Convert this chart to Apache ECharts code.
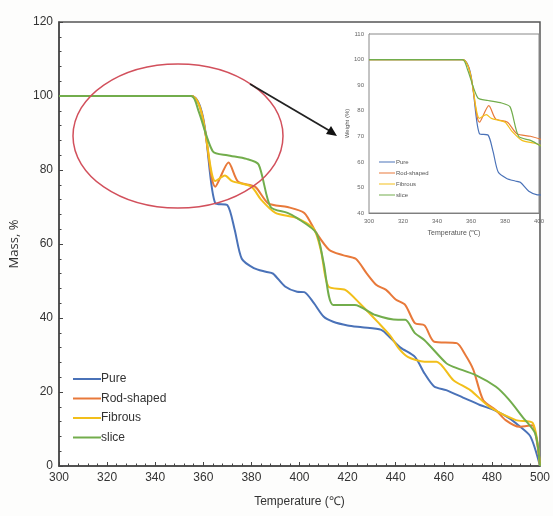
<!DOCTYPE html>
<html>
<head>
<meta charset="utf-8">
<script src="https://cdn.jsdelivr.net/npm/echarts@6/dist/echarts.min.js"></script>
<style>
  html, body { margin: 0; padding: 0; background: #fff; }
  #chart { width: 553px; height: 516px; }
</style>
</head>
<body>
<div id="chart"></div>
<script>
// values (temperature in °C, mass in %)
var pureT = [300, 355, 365, 370, 373, 376, 381, 386, 389, 394, 399, 402, 406, 410, 414, 420, 426, 434, 438, 442, 448, 452, 456, 461, 468, 475, 481, 487, 491, 496, 500];
var pureM = [100, 100, 71, 70.5, 64, 56, 53.5, 52.5, 52, 48.5, 47.1, 47, 44, 40.4, 39, 38, 37.5, 36.8, 34.5, 32, 29.5, 25, 21.5, 20.5, 18.5, 16.5, 15.1, 13, 11, 8, 0];

var rodT = [300, 355, 365, 370.5, 374.5, 381.5, 387, 395, 402, 407, 412.4, 418, 423.4, 428, 432, 436, 440, 444, 448, 452, 456, 465.4, 469, 472.3, 476.4, 481.7, 485.7, 491.4, 496.7, 500];
var rodM = [100, 100, 75.5, 82, 76.8, 75.5, 71, 70, 68.4, 63, 58.4, 57, 56, 52, 48.9, 47.6, 45, 43.5, 38.6, 38, 33.6, 33.2, 30, 26, 17.8, 15.1, 12.4, 10.6, 11, 0];

var fibT = [300, 355, 365, 369, 372, 380, 384, 390, 399, 406, 409, 412, 419, 425, 433, 438, 441, 445, 452, 457, 464, 471, 479, 490, 497, 500];
var fibM = [100, 100, 77, 78.5, 77, 75.5, 72, 68.4, 67, 64, 58, 48.5, 47.6, 44, 38.6, 35, 32, 29.5, 28.2, 28.2, 23.2, 20.5, 16, 12.4, 11.6, 0];

var sliceT = [300, 355, 358, 364, 370, 378, 383, 388, 395, 399, 407, 410, 414, 423, 431.6, 441, 444, 448, 452, 461, 464, 473.5, 481.7, 487, 492.7, 498, 500];
var sliceM = [100, 100, 96, 85, 84, 83, 81.5, 70, 68.4, 67, 63, 55, 43.5, 43.5, 40.8, 39.5, 39.5, 35.9, 34, 27.8, 26.8, 24.5, 21.4, 18, 13.3, 8.8, 0];

var names = ['Pure', 'Rod-shaped', 'Fibrous', 'slice'];
var colors = ['#4a72b8', '#e8793a', '#f2bf1a', '#72ad4c'];
var xTicks = [300, 320, 340, 360, 380, 400, 420, 440, 460, 480, 500];
var yTicks = [0, 20, 40, 60, 80, 100, 120];

var chart = echarts.init(document.getElementById('chart'));
var allT = [pureT, rodT, fibT, sliceT];
var allM = [pureM, rodM, fibM, sliceM];

function pairs(t, m) {
  var out = [];
  for (var i = 0; i < t.length; i++) out.push([t[i], m[i]]);
  return out;
}

var narrow = 'Liberation Sans Narrow, Liberation Sans, Arial, sans-serif';

var series = [];
for (var g = 0; g < 2; g++) {
  for (var i = 0; i < 4; i++) {
    series.push({
      name: names[i],
      type: 'line',
      xAxisIndex: g,
      yAxisIndex: g,
      data: pairs(allT[i], allM[i]),
      symbol: 'none',
      smooth: 0.25,
      clip: true,
      z: 3 + (g * 4) + i,
      lineStyle: { color: colors[i], width: g === 0 ? 2 : 1.2 },
      itemStyle: { color: colors[i] }
    });
  }
}

var option = {
  backgroundColor: '#fdfdfc',
  animation: false,
  color: colors,
  grid: [
    { left: 57, right: 5, top: 22, bottom: 50, show: true, borderColor: '#555', borderWidth: 1.5, backgroundColor: '#fff' },
    { left: 369, right: 14, top: 34, bottom: 303, show: true, borderColor: '#888', borderWidth: 1, backgroundColor: '#fff', z: 5 }
  ],
  legend: [
    {
      data: names, orient: 'vertical', left: 68, top: 368,
      icon: 'rect', itemWidth: 28, itemHeight: 2, itemGap: 7.5,
      textStyle: { fontFamily: narrow, fontSize: 12, color: '#333', padding: [0, 0, 0, -5] }
    },
    {
      data: names, orient: 'vertical', left: 374, top: 154,
      icon: 'rect', itemWidth: 16, itemHeight: 1, itemGap: 5,
      textStyle: { fontFamily: narrow, fontSize: 6, color: '#555', padding: [0, 0, 0, -4] },
      z: 20
    }
  ],
  xAxis: [
    {
      type: 'value', gridIndex: 0, min: 300, max: 500, interval: 20,
      name: 'Temperature (℃)', nameLocation: 'middle', nameGap: 30,
      nameTextStyle: { fontFamily: narrow, fontSize: 12, color: '#333' },
      axisLine: { show: true, onZero: false, lineStyle: { color: '#444', width: 1.5 } },
      axisTick: { show: true, inside: true, length: 4, lineStyle: { color: '#444' } },
      minorTick: { show: true, splitNumber: 5, length: 2.5, lineStyle: { color: '#444' } },
      axisLabel: { fontFamily: narrow, fontSize: 12, color: '#333', margin: 6,
        customValues: xTicks },
      splitLine: { show: false }
    },
    {
      type: 'value', gridIndex: 1, min: 300, max: 400, interval: 20,
      name: 'Temperature (℃)', nameLocation: 'middle', nameGap: 17,
      nameTextStyle: { fontFamily: narrow, fontSize: 7, color: '#555' },
      axisLine: { show: true, onZero: false, lineStyle: { color: '#777' } },
      axisTick: { show: true, inside: true, length: 2, lineStyle: { color: '#777' } },
      minorTick: { show: true, splitNumber: 5, length: 1.5, lineStyle: { color: '#777' } },
      axisLabel: { fontFamily: narrow, fontSize: 6, color: '#666', margin: 5 },
      splitLine: { show: false }
    }
  ],
  yAxis: [
    {
      type: 'value', gridIndex: 0, min: 0, max: 120, interval: 20,
      name: 'Mass, %', nameLocation: 'middle', nameGap: 38, nameRotate: 90,
      nameTextStyle: { fontFamily: 'Open Sans, Noto Sans, sans-serif', fontSize: 13, color: '#333' },
      axisLine: { show: true, onZero: false, lineStyle: { color: '#444', width: 1.5 } },
      axisTick: { show: true, inside: true, length: 4, lineStyle: { color: '#444' } },
      minorTick: { show: true, splitNumber: 5, length: 2.5, lineStyle: { color: '#444' } },
      axisLabel: { fontFamily: narrow, fontSize: 12, color: '#333', margin: 6,
        customValues: yTicks },
      splitLine: { show: false }
    },
    {
      type: 'value', gridIndex: 1, min: 40, max: 110, interval: 10,
      name: 'Weight (%)', nameLocation: 'middle', nameGap: 16, nameRotate: 90,
      nameTextStyle: { fontFamily: narrow, fontSize: 6, color: '#555' },
      axisLine: { show: true, onZero: false, lineStyle: { color: '#777' } },
      axisTick: { show: true, inside: true, length: 2, lineStyle: { color: '#777' } },
      minorTick: { show: true, splitNumber: 5, length: 1.5, lineStyle: { color: '#777' } },
      axisLabel: { fontFamily: narrow, fontSize: 6, color: '#666', margin: 5 },
      splitLine: { show: false }
    }
  ],
  graphic: [
    {
      type: 'ellipse', z: 50,
      shape: { cx: 178, cy: 136, rx: 105, ry: 72 },
      style: { fill: 'none', stroke: '#d2505c', lineWidth: 1.5 }
    },
    {
      type: 'line', z: 50,
      shape: { x1: 250, y1: 84, x2: 330, y2: 131 },
      style: { stroke: '#222', lineWidth: 1.8 }
    },
    {
      type: 'polygon', z: 50,
      shape: { points: [[337, 136], [326, 134], [331, 126]] },
      style: { fill: '#111' }
    }
  ],
  series: series
};

chart.setOption(option);
</script>
</body>
</html>
